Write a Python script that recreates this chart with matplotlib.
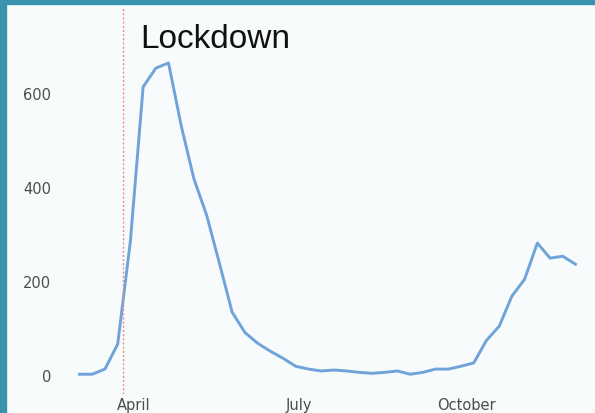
import matplotlib
matplotlib.use("Agg")
import matplotlib.pyplot as plt
import pandas as pd
from matplotlib.patches import Rectangle

# weekly values
weeks = pd.date_range("2020-03-02", periods=40, freq="7D")
values = [2, 2, 13, 66, 285, 613, 653, 664, 530, 417,
          340, 238, 134, 91, 68, 51, 36, 19, 13, 9,
          11, 9, 6, 4, 6, 9, 2, 6, 13, 13,
          19, 26, 74, 104, 168, 204, 281, 249, 253, 236]
lockdown_date = pd.Timestamp("2020-03-26")
month_ticks = pd.to_datetime(["2020-04-01", "2020-07-01", "2020-10-01"])
month_labels = ["April", "July", "October"]
y_ticks = [0, 200, 400, 600]

plt.rcParams["font.family"] = ["Liberation Sans", "DejaVu Sans"]

bg = "#f8fbfb"
fig = plt.figure(figsize=(5.95, 4.14), dpi=100, facecolor=bg)
W, H = 595, 414
ax = fig.add_axes((65 / W, 1 - 395 / H, (590 - 65) / W, (395 - 8) / H))
ax.set_facecolor(bg)
for s in ax.spines.values():
    s.set_visible(False)

ax.plot(weeks, values, color="#6fa3da", lw=2.1, solid_joinstyle="round")
ax.axvline(lockdown_date, color="#f08a8a", lw=1.0, linestyle=(0, (1.5, 1.5)))
ax.annotate("Lockdown", xy=(lockdown_date, 1), xycoords=("data", "axes fraction"),
            xytext=(12, -29), textcoords="offset points", fontsize=24,
            va="baseline", ha="left", color="#111111")

ax.set_ylim(-40, 783)
ax.set_xlim(pd.Timestamp("2020-02-23"), pd.Timestamp("2020-12-08"))
ax.set_yticks(y_ticks)
ax.set_xticks(month_ticks)
ax.set_xticklabels(month_labels)
for lab in ax.get_xticklabels() + ax.get_yticklabels():
    lab.set_family("DejaVu Sans")
ax.tick_params(length=0, labelsize=10.5, labelcolor="#4d4d4d")
ax.tick_params(axis="x", pad=2)
ax.tick_params(axis="y", pad=10)

# teal frame on the top and left edges
fig.patches.append(Rectangle((0, 1 - 5 / H), 1, 5 / H, transform=fig.transFigure,
                             color="#3a93ac", zorder=5))
fig.patches.append(Rectangle((0, 0), 6 / W, 1, transform=fig.transFigure,
                             color="#3a93ac", zorder=5))

plt.savefig("out.png", dpi=100, facecolor=bg)
